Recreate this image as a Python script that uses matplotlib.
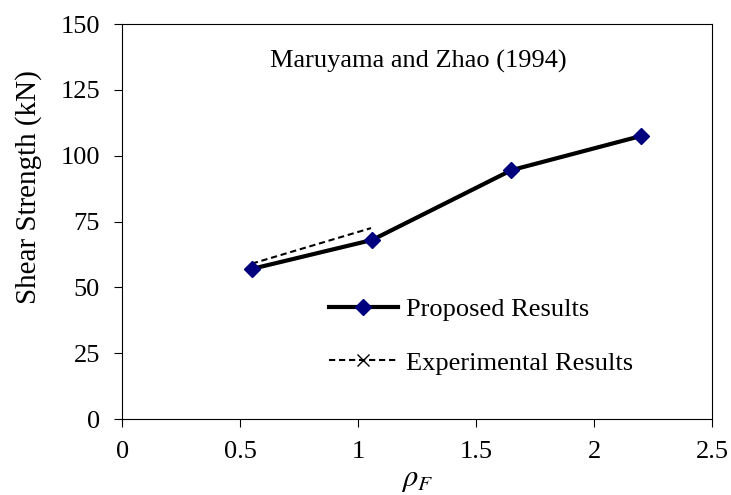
import numpy as np
import matplotlib
matplotlib.use('Agg')
import matplotlib.pyplot as plt
from matplotlib.lines import Line2D

plt.rcParams.update({
    'font.family': ['Liberation Serif', 'DejaVu Serif'],
    'mathtext.fontset': 'stix',
    'font.size': 19,
})

# data
rho_prop = [0.55, 1.06, 1.65, 2.2]
v_prop = [57.0, 68.0, 94.5, 107.5]
rho_exp = [0.55, 1.055]
v_exp = [59.0, 72.5]

fig = plt.figure(figsize=(7.31, 4.95), dpi=100)
ax = fig.add_axes([0.167, 0.1535, 0.807, 0.798])

ax.plot(rho_prop, v_prop, color='black', lw=3, marker='D', ms=8,
        mfc='#00007f', mec='#00007f', zorder=3)
ax.plot(rho_exp, v_exp, color='black', lw=1.5, ls=(0, (3, 1.8)), zorder=2)

ax.set_xlim(0, 2.5)
ax.set_ylim(0, 150)
ax.set_xticks([0, 0.5, 1, 1.5, 2, 2.5])
ax.set_xticklabels(['0', '0.5', '1', '1.5', '2', '2.5'])
ax.set_yticks([0, 25, 50, 75, 100, 125, 150])
ax.tick_params(direction='out', length=6, width=0.8, pad=10, labelsize=19)
for s in ax.spines.values():
    s.set_linewidth(0.8)

ax.set_xlabel(r'$\rho_F$', fontsize=22, labelpad=1)
ax.set_ylabel('Shear Strength (kN)', fontsize=21)
ax.yaxis.set_label_coords(-0.136, 0.586)
ax.text(1.254, 135.6, 'Maruyama and Zhao (1994)', ha='center', va='center', fontsize=19)

handles = [
    Line2D([], [], color='black', lw=3, marker='D', ms=8, mfc='#00007f', mec='#00007f'),
    Line2D([], [], color='black', lw=1.5, ls=(0, (3, 1.8)), marker='x', ms=9, mec='black', mew=1),
]
ax.legend(handles, ['Proposed Results', 'Experimental Results'], loc='center left',
          bbox_to_anchor=(0.351, 0.21), frameon=False, handlelength=2.6,
          handletextpad=0.3, labelspacing=1.15, borderpad=0, borderaxespad=0, fontsize=19)

fig.savefig('out.png', dpi=100)
